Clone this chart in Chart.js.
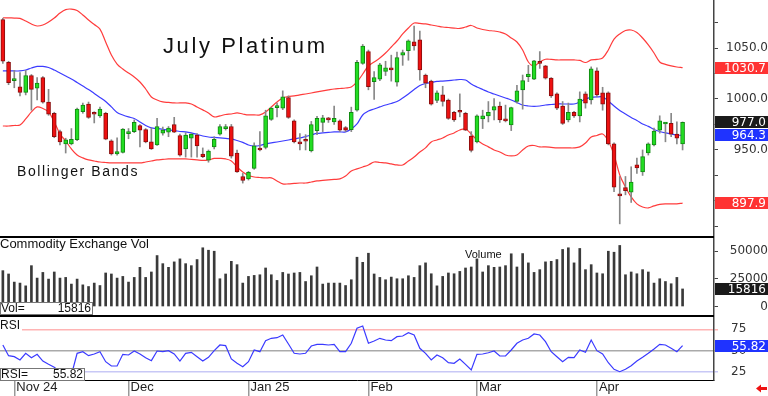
<!DOCTYPE html>
<html>
<head>
<meta charset="utf-8">
<script src="https://cdn.jsdelivr.net/npm/chart.js@4.4.1/dist/chart.umd.min.js"></script>
<style>
  html, body { margin: 0; padding: 0; background: #fff; }
  #wrap { position: relative; width: 768px; height: 396px; overflow: hidden; }
  .pane { position: absolute; left: 0; width: 768px; }
</style>
</head>
<body>
<div id="wrap">
  <div class="pane" style="top:0;height:236px"><canvas id="priceChart"></canvas></div>
  <div class="pane" style="top:236px;height:79px"><canvas id="volChart"></canvas></div>
  <div class="pane" style="top:315px;height:81px"><canvas id="rsiChart"></canvas></div>
</div>
<script>
// 125 slots on the time axis, 120 trading days filled
const slots = 125;
const monthIdx = [2, 22, 43, 64, 83, 104];
const monthNames = ['Nov 24', 'Dec', 'Jan 25', 'Feb', 'Mar', 'Apr'];

const open = [
  1078, 1036, 1018, 1012, 1006.5, 1023, 1010.5, 1021, 997, 986,
  968, 956, 956, 960, 987.5, 995, 985.5, 983.5, 986, 959,
  946, 947.5, 966, 968, 974, 970, 958, 955, 966.5, 967.5,
  975, 964, 951, 961.5, 964.5, 946, 940, 953, 965.5, 971,
  973, 947, 924, 921.5, 932, 951, 952.5, 980, 991.5, 991,
  1001.5, 978.5, 958, 959.5, 949, 969, 977, 981.5, 977.5, 978.5,
  972, 970, 989, 1035, 1046.5, 1017, 1019.5, 1027, 1030.5, 1016.5,
  1043, 1047.5, 1056, 1058, 1023.5, 1017.5, 998.5, 1004, 999, 987,
  988.5, 986, 963.5, 958, 980.5, 983.5, 989, 993, 980.5, 974.5,
  997.5, 1009, 1022, 1019.5, 1037, 1032.5, 1020.5, 1005, 993, 979.5,
  987, 983.5, 1005, 999, 1027.5, 1006, 1006, 956, 905.5, 913,
  908.5, 935.5, 928.5, 947, 955, 969.5, 975.5, 976, 965.5, 956
];
const high = [
  1079, 1037, 1028, 1026, 1028, 1024, 1021, 1022, 1009.5, 987,
  969.5, 961.5, 971, 991, 996, 997, 987.5, 992, 987, 960,
  962, 971, 971, 979.5, 975, 971, 971.5, 981, 972.5, 973,
  982, 965.5, 967, 966, 966, 952, 950, 963, 975, 975,
  975, 950, 927, 929, 957, 968, 989, 992, 996, 1008,
  1003, 979.5, 966, 965, 978, 983, 984, 982, 993, 979.5,
  973, 992, 1038, 1053.5, 1048, 1027, 1035, 1037, 1043, 1046,
  1048, 1058, 1071.5, 1066.5, 1024.5, 1018.5, 1008, 1012.5, 1000, 988,
  1005, 987, 968, 984.5, 989, 997.5, 1000.5, 997, 994, 992,
  1013.5, 1023.5, 1033, 1038, 1046.5, 1033, 1021, 1006, 997.5, 996,
  988, 1007, 1007, 1031.5, 1030.5, 1011.5, 1007, 957, 924, 924,
  933.5, 942, 950, 957, 971.5, 983.5, 977, 986, 977.5, 977.5
];
const low = [
  1035, 1014, 1011, 1003, 1004, 989, 999, 996, 984, 962,
  955, 947, 955, 959, 986, 981, 976.5, 982, 960, 945,
  945, 947, 961, 967, 953, 957, 950.5, 954.5, 964.5, 963,
  967, 944, 943, 943, 943, 942.5, 938, 951, 964.5, 969.5,
  942, 928, 917.5, 920.5, 931, 949, 951, 979, 982.5, 989.5,
  981, 957, 950, 950, 948, 965, 968, 977, 975, 968,
  968, 968, 988, 1034, 1009, 999.5, 1018, 1023, 1017.5, 1012.5,
  1033, 1038, 1048, 1018.5, 1011, 994, 996.5, 993, 980, 978,
  982.5, 969, 948, 957, 971, 977.5, 979.5, 977, 977.5, 969,
  996, 990, 1017, 1019, 1030, 1019.5, 1001.5, 989.5, 975, 977.5,
  982, 977.5, 991, 995, 1002, 989, 955, 909, 877.5, 906,
  898.5, 927, 925, 945, 954, 966.5, 958, 963, 956, 950
];
const close = [
  1037, 1016, 1020, 1006.5, 1023, 1009.5, 1015.5, 997, 985, 963,
  958, 960, 960.5, 990, 994, 982, 985, 990, 960.5, 946,
  948.5, 970.5, 968, 977, 969.5, 958, 951, 973, 969.5, 971.5,
  967.5, 945, 964.5, 965.5, 954, 943.5, 949, 960.5, 973, 973,
  944, 928.5, 920, 928, 954, 950, 983.5, 991, 992.5, 1002,
  982, 958, 956, 958.5, 975, 981, 981.5, 979.5, 981, 969.5,
  969.5, 987, 1036, 1052, 1012, 1021, 1033.5, 1030.5, 1028.5, 1040.5,
  1045.5, 1057, 1052, 1028.5, 1015.5, 995, 1006, 997.5, 981, 979.5,
  987, 969.5, 949.5, 983.5, 983.5, 987, 992.5, 979.5, 978.5, 991.5,
  1008, 1018, 1024.5, 1037.5, 1035, 1020.5, 1003, 991, 976, 987,
  983.5, 1000, 996, 1029.5, 1004, 995, 956, 913.5, 905, 910,
  918.5, 932.5, 943.5, 956, 968.5, 978.5, 976.5, 965.5, 961.5, 977
];

// Bollinger bands
const upper = [
  1079.7, 1079.6, 1079.4, 1079.1, 1076.5, 1073.5, 1071.6, 1072.6, 1075.5, 1079.4,
  1084.3, 1087.7, 1088.2, 1086.8, 1082.4, 1077.5, 1073.0, 1068.6, 1055.9, 1043.1,
  1034.3, 1029.4, 1025.5, 1021.6, 1016.7, 1009.8, 1002.0, 999.0, 997.1, 996.6,
  996.1, 996.1, 996.1, 995.1, 992.2, 989.3, 986.3, 982.4, 983.4, 984.8,
  985.3, 986.3, 985.3, 984.4, 984.4, 984.4, 987.3, 992.2, 997.1, 1001.0,
  1002.5, 1003.0, 1004.0, 1004.9, 1005.9, 1006.9, 1007.9, 1008.9, 1009.8, 1010.3,
  1010.8, 1011.8, 1016.7, 1024.5, 1032.4, 1036.3, 1040.2, 1045.1, 1051.0, 1056.9,
  1063.8, 1069.6, 1074.5, 1074.1, 1073.6, 1072.6, 1071.6, 1070.6, 1070.1, 1069.6,
  1069.2, 1070.6, 1072.1, 1069.6, 1068.2, 1067.2, 1066.7, 1065.7, 1063.8, 1059.8,
  1055.9, 1048.1, 1036.3, 1032.4, 1036.3, 1039.0, 1038.8, 1038.3, 1038.3, 1038.3,
  1038.3, 1037.8, 1035.8, 1038.3, 1038.8, 1040.2, 1048.1, 1058.8, 1063.8, 1067.2,
  1067.7, 1065.2, 1059.8, 1053.0, 1045.1, 1036.3, 1033.9, 1032.4, 1031.4, 1030.7
];
const middle = [
  1027.5, 1027.5, 1027.5, 1027.5, 1028.4, 1030.4, 1031.9, 1031.9, 1030.9, 1028.4,
  1025.5, 1022.6, 1019.6, 1016.2, 1012.7, 1009.3, 1005.4, 1001.5, 997.6, 992.2,
  986.8, 984.3, 982.4, 980.9, 977.5, 974.0, 971.6, 971.1, 970.1, 969.6,
  969.1, 968.1, 967.7, 966.7, 965.2, 963.7, 962.7, 962.3, 961.8, 961.3,
  960.8, 959.3, 957.4, 954.9, 953.9, 954.4, 955.9, 956.9, 957.8, 958.8,
  959.8, 960.8, 961.8, 963.2, 964.7, 966.2, 966.7, 967.2, 967.7, 967.7,
  967.7, 970.6, 975.5, 984.3, 988.2, 990.2, 992.2, 994.1, 995.6, 997.6,
  1001.0, 1004.9, 1009.3, 1013.2, 1015.2, 1016.2, 1017.2, 1017.6, 1018.1, 1018.6,
  1019.1, 1018.6, 1014.7, 1011.8, 1009.3, 1006.9, 1004.9, 1002.9, 1001.0, 999.0,
  996.6, 994.1, 993.1, 992.7, 993.1, 994.1, 994.6, 995.1, 995.1, 995.1,
  995.1, 997.1, 1000.0, 1001.5, 1002.0, 1002.0, 998.1, 993.1, 988.7, 985.3,
  981.9, 978.9, 975.5, 973.1, 970.1, 968.1, 966.7, 965.7, 964.7, 964.3
];
const lower = [
  973.5, 973.5, 974.0, 974.5, 980.4, 987.3, 992.2, 990.7, 987.3, 977.5,
  965.7, 958.8, 951.0, 945.1, 942.2, 940.2, 939.2, 938.2, 937.7, 937.3,
  937.3, 937.3, 937.3, 937.3, 937.3, 938.2, 939.2, 940.2, 940.7, 941.2,
  941.2, 941.2, 941.2, 940.7, 940.2, 939.7, 940.2, 941.7, 941.7, 941.2,
  939.2, 933.3, 928.4, 925.0, 923.5, 923.0, 922.6, 922.6, 919.6, 916.7,
  916.7, 917.2, 917.6, 917.6, 918.6, 919.6, 920.1, 920.6, 921.1, 921.6,
  924.5, 929.4, 931.4, 933.3, 935.3, 938.2, 937.7, 937.3, 936.3, 935.3,
  935.3, 939.2, 943.1, 948.0, 952.0, 957.9, 959.8, 961.8, 964.7, 966.7,
  969.6, 970.6, 965.7, 959.8, 955.9, 953.0, 950.0, 948.0, 945.1, 944.1,
  945.1, 950.0, 953.9, 954.4, 953.0, 953.0, 952.5, 952.0, 952.0, 952.0,
  952.0, 953.0, 956.9, 962.7, 964.2, 965.7, 958.8, 945.1, 925.5, 913.7,
  903.9, 897.1, 894.1, 893.1, 895.1, 896.6, 897.1, 897.1, 897.1, 897.9
];

const volume = [
  32300, 29300, 22000, 21100, 18600, 36800, 25600, 30700, 24700, 31100,
  25600, 26200, 20200, 24700, 19500, 18000, 21100, 18900, 30200, 29300,
  25600, 27100, 22000, 26200, 35300, 26200, 31100, 45900, 38600, 35300,
  40200, 42900, 38600, 36800, 42300, 52900, 50700, 49800, 25000, 29300,
  40700, 37700, 21100, 27100, 28000, 28600, 34700, 28600, 23500, 30700,
  29300, 30200, 30700, 22500, 27700, 35600, 20200, 21100, 21100, 21100,
  18900, 24100, 44400, 39800, 48000, 29300, 26200, 24100, 26500, 25000,
  25000, 27700, 26200, 36800, 39300, 29500, 18600, 27100, 30200, 29500,
  31600, 34700, 35600, 42900, 31100, 36800, 35300, 35600, 36800, 47500,
  35600, 47700, 39300, 30700, 33200, 40200, 40700, 42300, 51400, 52900,
  39300, 52300, 33200, 37700, 30200, 29500, 49800, 48900, 55000, 28600,
  31100, 29500, 33200, 31100, 21100, 25000, 22500, 20500, 26200, 15816
];

const rsi = [
  56.5, 43.9, 42.7, 38.8, 46.7, 41.5, 45.5, 37.6, 33.7, 30.2,
  25.0, 19.0, 21.1, 46.7, 48.6, 43.9, 45.9, 48.6, 36.8, 31.7,
  31.7, 45.5, 44.7, 49.4, 45.9, 41.5, 38.0, 49.4, 48.6, 49.8,
  45.9, 37.6, 46.7, 47.9, 42.7, 37.6, 42.0, 49.8, 56.5, 55.7,
  40.0, 34.9, 30.9, 36.8, 50.6, 48.6, 61.6, 64.4, 65.1, 68.3,
  57.7, 46.7, 45.9, 46.7, 55.3, 57.3, 57.3, 56.5, 57.3, 48.6,
  48.6, 58.5, 76.2, 78.9, 58.5, 61.2, 64.4, 62.4, 61.6, 66.3,
  67.1, 71.0, 68.3, 52.6, 46.7, 38.8, 44.7, 41.5, 35.6, 34.9,
  40.0, 33.7, 27.0, 45.5, 45.9, 47.4, 49.4, 43.5, 43.5, 50.6,
  58.5, 62.4, 64.4, 69.5, 68.3, 60.4, 48.6, 42.7, 36.8, 42.0,
  41.5, 50.6, 47.9, 62.4, 49.8, 45.9, 35.6, 27.8, 25.0, 27.8,
  32.1, 37.6, 42.0, 46.7, 51.8, 57.3, 56.5, 52.6, 48.6, 55.82
];

const labels = Array.from({ length: slots }, (_, i) => String(i));
const up = close.map((c, i) => c >= open[i]);

const SANS = '"Liberation Sans", Arial, sans-serif';
const AXIS_FONT = { family: '"DejaVu Sans", sans-serif', size: 12 };

// right axis is always 54px wide, no extra padding that would shrink the plot
function fixedAxis(scale) {
  scale.width = 54;
  scale.paddingTop = 0;
  scale.paddingBottom = 0;
}
function tickList(values) {
  return function (scale) {
    scale.ticks = values.map(v => ({ value: v }));
  };
}

function drawTag(ctx, py, text, bg) {
  const y = Math.round(py);
  ctx.fillStyle = bg;
  ctx.fillRect(715, y - 6, 53, 12);
  ctx.fillStyle = '#fff';
  ctx.font = '12px "DejaVu Sans", sans-serif';
  ctx.textAlign = 'right';
  ctx.textBaseline = 'middle';
  ctx.fillText(text, 766, y + 0.5);
}

function drawBox(ctx, x, y, w, h, name, value) {
  ctx.fillStyle = '#fff';
  ctx.fillRect(x, y, w, h);
  ctx.strokeStyle = '#777';
  ctx.lineWidth = 1;
  ctx.strokeRect(x + 0.5, y + 0.5, w - 1, h - 1);
  ctx.fillStyle = '#111';
  ctx.font = '12px ' + SANS;
  ctx.textBaseline = 'middle';
  ctx.textAlign = 'left';
  ctx.fillText(name, x + 1, y + h / 2 + 0.5);
  ctx.textAlign = 'right';
  ctx.fillText(value, x + w - 2, y + h / 2 + 0.5);
}

const priceOverlay = {
  id: 'priceOverlay',
  afterDraw(chart) {
    const { ctx } = chart;
    const y = chart.scales.y;
    ctx.save();
    ctx.fillStyle = '#111';
    ctx.textAlign = 'left';
    ctx.textBaseline = 'alphabetic';
    ctx.font = '22px ' + SANS;
    ctx.letterSpacing = '2.6px';
    ctx.fillText('July Platinum', 163, 53);
    ctx.font = '14px ' + SANS;
    ctx.letterSpacing = '1.6px';
    ctx.fillText('Bollinger Bands', 17, 176);
    ctx.letterSpacing = '0px';
    drawTag(ctx, y.getPixelForValue(upper.at(-1)), upper.at(-1).toFixed(1), '#ff3333');
    drawTag(ctx, y.getPixelForValue(close.at(-1)), close.at(-1).toFixed(1), '#1a1a1a');
    drawTag(ctx, y.getPixelForValue(middle.at(-1)), middle.at(-1).toFixed(1), '#1f33ff');
    drawTag(ctx, y.getPixelForValue(lower.at(-1)), lower.at(-1).toFixed(1), '#ff3333');
    ctx.restore();
  }
};

const volOverlay = {
  id: 'volOverlay',
  afterDraw(chart) {
    const { ctx, chartArea } = chart;
    const y = chart.scales.y;
    ctx.save();
    ctx.fillStyle = '#000';
    ctx.fillRect(0, 0, chartArea.right, 2);
    ctx.fillStyle = '#111';
    ctx.textAlign = 'left';
    ctx.textBaseline = 'alphabetic';
    ctx.font = '13px ' + SANS;
    ctx.fillText('Commodity Exchange Vol', 0, 12);
    ctx.font = '11px ' + SANS;
    ctx.fillText('Volume', 465, 21.5);
    drawBox(ctx, 0, 66, 93, 13, 'Vol=', String(volume.at(-1)));
    drawTag(ctx, y.getPixelForValue(volume.at(-1)), String(volume.at(-1)), '#1a1a1a');
    ctx.restore();
  }
};

const rsiOverlay = {
  id: 'rsiOverlay',
  afterDraw(chart) {
    const { ctx, chartArea } = chart;
    const y = chart.scales.y;
    ctx.save();
    ctx.fillStyle = '#000';
    ctx.fillRect(0, 0, chartArea.right, 2);
    ctx.fillStyle = '#fff';
    ctx.fillRect(0, 3, 22, 13);
    ctx.fillStyle = '#111';
    ctx.textAlign = 'left';
    ctx.textBaseline = 'alphabetic';
    ctx.font = '12px ' + SANS;
    ctx.fillText('RSI', 0, 14);
    drawBox(ctx, 0, 53, 85, 13, 'RSI=', rsi.at(-1).toFixed(2));
    drawTag(ctx, y.getPixelForValue(rsi.at(-1)), rsi.at(-1).toFixed(2), '#1f33ff');
    // little red arrow, bottom right
    ctx.fillStyle = '#ee1111';
    ctx.beginPath();
    ctx.moveTo(756, 73.5);
    ctx.lineTo(761, 69.5);
    ctx.lineTo(761, 77.5);
    ctx.closePath();
    ctx.fill();
    ctx.fillRect(760, 72, 7, 3);
    ctx.restore();
  }
};

const base = {
  responsive: true,
  maintainAspectRatio: false,
  animation: false,
  events: [],
  layout: { padding: 0 },
  plugins: { legend: { display: false }, tooltip: { enabled: false }, title: { display: false } }
};
const hiddenX = { type: 'category', display: false, offset: true, grid: { display: false } };

new Chart(document.getElementById('priceChart'), {
  type: 'bar',
  data: {
    labels: labels,
    datasets: [
      { type: 'line', data: upper, borderColor: '#ff3c3c', borderWidth: 1.2, pointRadius: 0, tension: 0.35, order: 3 },
      { type: 'line', data: middle, borderColor: '#3c3cff', borderWidth: 1.2, pointRadius: 0, tension: 0.35, order: 3 },
      { type: 'line', data: lower, borderColor: '#ff3c3c', borderWidth: 1.2, pointRadius: 0, tension: 0.35, order: 3 },
      {
        data: low.map((l, i) => [l, high[i]]),
        backgroundColor: '#888',
        barThickness: 1,
        grouped: false,
        order: 2
      },
      {
        data: open.map((o, i) => [o, close[i]]),
        backgroundColor: up.map(u => u ? '#22dd22' : '#ee1111'),
        borderColor: up.map(u => u ? '#118811' : '#8a0d0d'),
        borderWidth: 1,
        borderSkipped: false,
        barThickness: 4,
        minBarLength: 2,
        grouped: false,
        order: 1
      }
    ]
  },
  options: {
    ...base,
    scales: {
      x: hiddenX,
      y: {
        position: 'right',
        min: 865.6,
        max: 1097.1,
        afterBuildTicks: tickList([875, 900, 925, 950, 975, 1000, 1025, 1050, 1075]),
        afterFit: fixedAxis,
        grid: { drawOnChartArea: false, tickLength: 4, color: '#444' },
        border: { color: '#444', width: 1.5 },
        ticks: {
          crossAlign: 'far',
          padding: 6,
          color: '#333',
          font: AXIS_FONT,
          callback: v => [950, 1000, 1050].includes(v) ? v.toFixed(1) : ''
        }
      }
    }
  },
  plugins: [priceOverlay]
});

new Chart(document.getElementById('volChart'), {
  type: 'bar',
  data: {
    labels: labels,
    datasets: [{ data: volume, backgroundColor: '#3a3a3a', barThickness: 2, grouped: false }]
  },
  options: {
    ...base,
    scales: {
      x: hiddenX,
      y: {
        position: 'right',
        min: -7658,
        max: 63514,
        afterBuildTicks: tickList([0, 25000, 50000]),
        afterFit: fixedAxis,
        grid: { drawOnChartArea: false, tickLength: 4, color: '#444' },
        border: { color: '#444', width: 1.5 },
        ticks: { crossAlign: 'far', padding: 10, color: '#333', font: AXIS_FONT, callback: v => String(v) }
      }
    }
  },
  plugins: [volOverlay]
});

const rsiGrid = { 75: '#ffb4b4', 50: '#aaaaaa', 25: '#c8c8f6' };

new Chart(document.getElementById('rsiChart'), {
  type: 'line',
  data: {
    labels: labels,
    datasets: [{ data: rsi, borderColor: '#3a3aff', borderWidth: 1.2, pointRadius: 0, tension: 0 }]
  },
  options: {
    ...base,
    scales: {
      x: {
        type: 'category',
        offset: true,
        afterFit: s => { s.height = 16; s.paddingLeft = 0; s.paddingRight = 0; },
        grid: {
          offset: false,
          drawOnChartArea: false,
          tickLength: 16,
          lineWidth: 1.5,
          color: c => monthIdx.includes(c.index) ? '#999' : 'rgba(0,0,0,0)'
        },
        border: { display: true, color: '#000', width: 1 },
        ticks: {
          autoSkip: false,
          maxRotation: 0,
          minRotation: 0,
          align: 'start',
          padding: -16,
          labelOffset: 2,
          color: '#222',
          font: { family: SANS, size: 13 },
          callback: (v, i) => {
            const k = monthIdx.indexOf(i);
            return k >= 0 ? monthNames[k] : '';
          }
        }
      },
      y: {
        position: 'right',
        min: 15.2,
        max: 91.9,
        afterBuildTicks: tickList([25, 50, 75]),
        afterFit: fixedAxis,
        grid: { color: c => rsiGrid[c.tick.value] || '#ccc', lineWidth: 1.5, tickLength: 4 },
        border: { color: '#444', width: 1.5 },
        ticks: { crossAlign: 'near', padding: 13, color: '#333', font: AXIS_FONT, callback: v => String(v) }
      }
    }
  },
  plugins: [rsiOverlay]
});
</script>
</body>
</html>
